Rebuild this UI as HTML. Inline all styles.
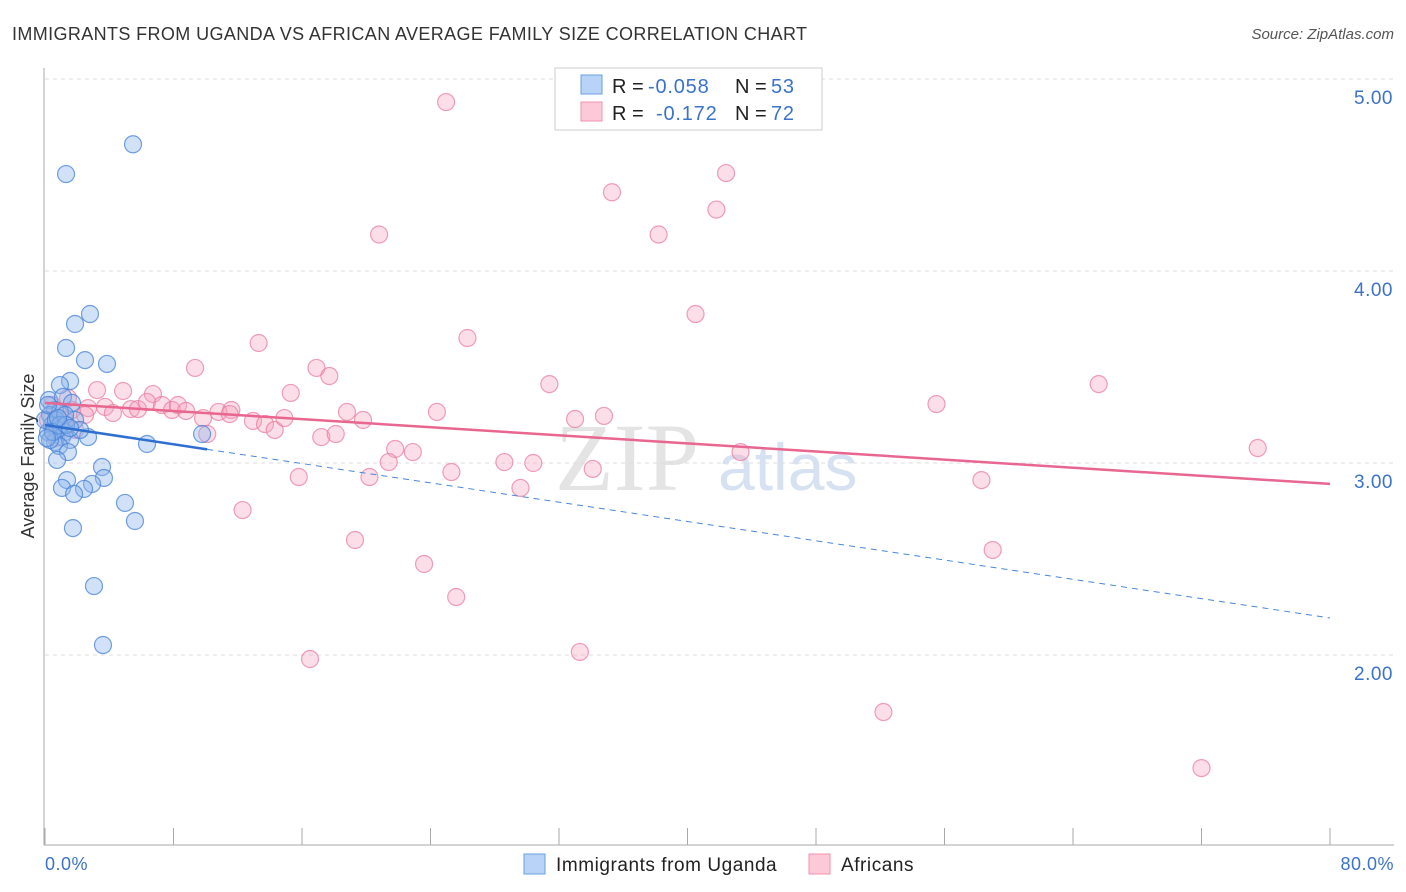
<!DOCTYPE html>
<html><head><meta charset="utf-8"><style>
body{margin:0;background:#fff;font-family:"Liberation Sans",sans-serif;}
#wrap{position:relative;width:1406px;height:892px;overflow:hidden;}
</style></head><body>
<div id="wrap">
<svg id="chart" width="1406" height="892" xmlns="http://www.w3.org/2000/svg">
<text x="12" y="40" font-size="18" fill="#333" letter-spacing="0.38">IMMIGRANTS FROM UGANDA VS AFRICAN AVERAGE FAMILY SIZE CORRELATION CHART</text>
<text x="1394" y="39" font-size="15" fill="#555" font-style="italic" text-anchor="end">Source: ZipAtlas.com</text>
<text x="555" y="490" font-size="96" fill="#e4e4e4" font-family="Liberation Serif,serif">ZIP</text>
<text x="718" y="490" font-size="66" fill="#d6e2f2">atlas</text>
<g id="grid"></g>
<g id="axes"></g>
<g id="marks"></g>
<g id="trends"></g>
<text transform="translate(34,456) rotate(-90)" font-size="18" fill="#333" text-anchor="middle">Average Family Size</text>
<text x="45" y="870" font-size="18" fill="#3b73c8" letter-spacing="0.5">0.0%</text>
<text x="1394" y="870" font-size="18" fill="#3b73c8" text-anchor="end" letter-spacing="0.5">80.0%</text>
<g>
<rect x="555" y="68" width="267" height="62" fill="#fff" stroke="#ccc"/>
<rect x="581" y="75" width="21" height="19" fill="#b8d3f5" stroke="#6a9fe0"/>
<rect x="581" y="102" width="21" height="19" fill="#fbc9d8" stroke="#ef92ad"/>
<text x="612" y="93" font-size="20" fill="#222">R = <tspan fill="#3b73c8" x="648" letter-spacing="0.8">-0.058</tspan></text>
<text x="735" y="93" font-size="20" fill="#222">N = <tspan fill="#3b73c8" x="771" letter-spacing="0.8">53</tspan></text>
<text x="612" y="120" font-size="20" fill="#222">R = <tspan fill="#3b73c8" x="656" letter-spacing="0.8">-0.172</tspan></text>
<text x="735" y="120" font-size="20" fill="#222">N = <tspan fill="#3b73c8" x="771" letter-spacing="0.8">72</tspan></text>
</g>
<g>
<rect x="524" y="854" width="21" height="20" fill="#b8d3f5" stroke="#6a9fe0"/>
<text x="556" y="871" font-size="19" fill="#222" letter-spacing="0.55">Immigrants from Uganda</text>
<rect x="809" y="854" width="21" height="20" fill="#fbc9d8" stroke="#ef92ad"/>
<text x="841" y="871" font-size="19" fill="#222" letter-spacing="0.55">Africans</text>
</g>
</svg>
</div>
<script>
const yTicks = [2, 3, 4, 5];
const yTickLabels = ["2.00", "3.00", "4.00", "5.00"];
const xTickCount = 10;
const blueX = [5.48,1.31,2.80,1.87,1.31,2.49,3.86,1.56,0.93,0.25,1.12,1.68,0.62,0.31,0.93,1.87,0.44,0.81,1.25,0.19,1.06,2.68,0.62,1.56,0.87,1.43,0.75,6.35,9.78,3.55,3.67,1.37,2.93,1.06,2.43,1.81,4.98,5.60,1.74,3.05,3.61,0.31,0,0.68,1.25,0.19,2.18,0.93,0.5,1.31,1.56,0.12,0.81];
const blueY = [4.66,4.505,3.776,3.724,3.599,3.536,3.516,3.427,3.406,3.328,3.344,3.313,3.276,3.25,3.266,3.224,3.198,3.172,3.161,3.161,3.135,3.135,3.109,3.12,3.089,3.057,3.016,3.099,3.151,2.979,2.922,2.911,2.891,2.87,2.865,2.839,2.792,2.698,2.661,2.359,2.052,3.12,3.224,3.224,3.25,3.302,3.172,3.198,3.161,3.198,3.182,3.13,3.234];
const pinkX = [24.97,35.3,42.4,41.8,20.8,38.2,40.5,13.3,26.3,9.34,16.9,17.7,31.4,65.6,15.3,3.24,4.86,6.72,55.5,1.68,2.68,3.74,4.23,5.35,5.79,6.35,7.29,7.91,8.28,8.78,9.84,10.8,11.6,11.5,12.95,13.7,14.3,14.9,18.8,19.8,24.4,33.0,34.8,10.1,17.2,18.1,21.8,22.9,43.3,75.5,21.4,28.6,30.4,25.3,34.1,15.8,20.2,58.3,29.6,12.3,19.3,59.0,23.6,25.6,33.3,16.5,52.2,72.0,0.93,1.25,0.44,1.87,0.68,1.43,0.19,2.49];
const pinkY = [4.88,4.41,4.51,4.32,4.19,4.19,3.776,3.625,3.651,3.495,3.495,3.453,3.411,3.411,3.365,3.38,3.375,3.359,3.307,3.276,3.286,3.292,3.26,3.281,3.281,3.318,3.302,3.276,3.302,3.271,3.234,3.266,3.276,3.255,3.219,3.203,3.172,3.234,3.266,3.224,3.266,3.229,3.245,3.151,3.135,3.151,3.073,3.057,3.057,3.078,3.005,3.005,3.0,2.953,2.969,2.927,2.927,2.911,2.87,2.755,2.599,2.547,2.474,2.302,2.016,1.979,1.703,1.411,3.266,3.224,3.302,3.172,3.13,3.339,3.224,3.25];
const blueTrend = [3.198, 2.193];
const blueSolidEnd = 10.1;
const pinkTrend = [3.313, 2.891];
const pinkEnd = 80;

const NS = "http://www.w3.org/2000/svg";
const X0 = 45, X1 = 1330, XMAX = 80;
function sx(v){ return X0 + (X1 - X0) * v / XMAX; }
function sy(v){ return 79 + (5 - v) * 192; }
function mk(tag, attrs, parent){ const e = document.createElementNS(NS, tag); for (const k in attrs) e.setAttribute(k, attrs[k]); parent.appendChild(e); return e; }

const grid = document.getElementById('grid'), axes = document.getElementById('axes');
yTicks.forEach((t, i) => {
  const l = mk('line', {x1: 45, x2: 1394, y1: sy(t), y2: sy(t), stroke: '#ddd', 'stroke-dasharray': '4,4'}, grid);
  
  
  const tx = mk('text', {x: 1393, y: sy(t) + 25, 'font-size': 19, fill: '#3b73c8', 'text-anchor': 'end', 'letter-spacing': 0.5}, axes);
  tx.textContent = yTickLabels[i];
  
  
});
const yl = mk('line', {x1: 44, x2: 44, y1: 68, y2: 845, stroke: '#aaa'}, axes);


const xl = mk('line', {x1: 44, x2: 1394, y1: 845, y2: 845, stroke: '#aaa'}, axes);


for (let i = 0; i <= xTickCount; i++) {
  const x = sx(XMAX * i / xTickCount);
  const t = mk('line', {x1: x, x2: x, y1: 828, y2: 845, stroke: '#aaa'}, axes);
  
  
}
const marks = document.getElementById('marks');
pinkX.forEach((v, i) => {
  const c = mk('circle', {cx: sx(v), cy: sy(pinkY[i]), r: 8.5, fill: 'rgba(246,160,188,0.35)', stroke: 'rgba(232,120,155,0.7)', 'stroke-width': 1.2}, marks);
  
  
});
blueX.forEach((v, i) => {
  const c = mk('circle', {cx: sx(v), cy: sy(blueY[i]), r: 8.5, fill: 'rgba(140,180,235,0.4)', stroke: 'rgba(70,130,215,0.75)', 'stroke-width': 1.2}, marks);
  
  
});
const tr = document.getElementById('trends');
function ty(tnd, x){ return tnd[0] + (tnd[1] - tnd[0]) * x / XMAX; }
const p = mk('line', {x1: sx(0), y1: sy(ty(pinkTrend, 0)), x2: sx(pinkEnd), y2: sy(ty(pinkTrend, pinkEnd)), stroke: '#e8668f', 'stroke-width': 2.5}, tr);


const b1 = mk('line', {x1: sx(0), y1: sy(ty(blueTrend, 0)), x2: sx(blueSolidEnd), y2: sy(ty(blueTrend, blueSolidEnd)), stroke: '#2e6fd0', 'stroke-width': 2.5}, tr);


const b2 = mk('line', {x1: sx(blueSolidEnd), y1: sy(ty(blueTrend, blueSolidEnd)), x2: sx(80), y2: sy(ty(blueTrend, 80)), stroke: '#4a86dc', 'stroke-width': 1, 'stroke-dasharray': '6,5'}, tr);


</script>
</body></html>
